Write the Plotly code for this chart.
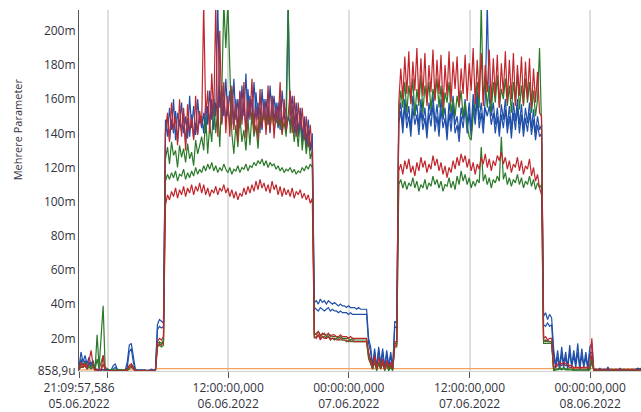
import pandas as pd
import plotly.graph_objects as go

# ---------------- data (values in milli-units) ----------------
sample_start = "2022-06-05 21:10:00"
sample_step = "12min"
n_samples = 281

blue1 = (
    [3,12,6,10,5,9,4,7,2,2, 1.5,2,1.5,1.5,2,1.5,1.5,4,5,2, 1.5,1.5,1.5,1.5,6,16,17,9,2,1.5, 1.5,1.5,1.5,1.5,1,1.5,2,1.5,1.5]
    + [28,31,30,29]
    + [148,138,155,142,160,136,152,145,158,140,150,137,162,143,156,139,160,146]
    + [150,140,158,145,165,148,160,150,216,155,168,150,172]
    + [150,165,145,172,148,160,143,168,150,175, 147,162,145,170,152,158,140,166,148,160, 145,168,150,162,146,158,142,165,150,155]
    + [216,150,162,145,158,140,155,138,150,135,148,130,140]
    + [41,42,40,43,41,42,40,42,41,40, 41,40,39,40,39,39,38,39,38,38, 38,37,38,37,37,37,37]
    + [20,15,4,14,3,15,5,14,3,13,4,12,3]
    + [30,29]
    + [150,158,145,160,148,156,142,162,150,157, 144,160,147,155,141,158,150,163,146,157]
    + [143,160,148,155,140,158,147,162,145,150, 140,155,148,160,145,158,142,163,150,165]
    + [148,158,145,160,216,160,150,158,145,155, 142,157,148,160,144,156,142,158,147,160]
    + [145,157,142,155,146,158,143,154,140,150,142,145]
    + [33,35,31,34,32]
    + [14,4,13,3,15,5,12,3,16,4, 13,5,17,3,14,4,12,3,15]
    + [17, 0.9]
    + [2,1.5,2.5,1.5,2,1.5,3,1.5,2,1.5, 2,1.5,2.5,1.5,2,1.5,2,1.5,2,1.5, 2,2.5,2,3]
)

blue2 = (
    [2,8,4,7,3,6,3,5,2,1.5, 1.5,1.5,1.5,1.5,1.5,1,1,2,3,1.5, 1,1,1,1,3,12,14,6,1.5,1, 1,1,1,1,1,1,1.5,1,1]
    + [25,27,26,27]
    + [142,150,136,148,140,153,135,147,141,152, 134,149,138,151,137,146,140,150]
    + [143,152,140,156,145,160,142,158,150,165,146,160,148]
    + [158,144,166,146,160,142,164,148,158,140, 166,150,160,144,164,148,155,142,160,146, 156,140,162,147,158,143,160,146,152,140]
    + [150,145,156,140,152,138,150,135,146,132,142,130,135]
    + [38,37,36,38,37,36,37,38,36,37, 36,36,35,36,35,35,35,34,35,34, 34,34,34,34,34,34,34]
    + [17,12,3,12,2,13,3,12,2,11,3,10,2]
    + [27,26]
    + [146,153,140,156,143,150,138,155,145,151, 139,154,142,149,137,152,144,157,141,150]
    + [138,154,143,149,136,152,141,156,140,145, 135,150,143,155,140,152,138,157,145,160]
    + [143,152,140,155,150,156,145,152,140,150, 138,151,143,154,140,150,137,152,142,155]
    + [140,151,138,149,141,152,139,148,136,145,138,140]
    + [28,27,29,27,28]
    + [10,3,9,2,11,3,9,2,12,3, 10,3,12,2,10,3,9,2,11]
    + [12, 0.9]
    + [1.5,1.2,1.8,1.2,1.5,1.2,2,1.2,1.5,1.2, 1.5,1.2,1.8,1.2,1.5,1.2,1.5,1.2,1.5,1.2, 1.5,1.8,1.5,2]
)

red1 = (
    [2,6,4,5,3,7,13,4,1.5,1.5, 2,1.5,10,1.5,1,1,1,1,1,1, 1,1,1,1,2,4,5,3,1,1, 1,1,1,1,1,1,1,1,1.5]
    + [18,20,19,21]
    + [140,152,135,158,142,150,133,160,138,155,130,157,141,149,136,162,139,153]
    + [145,216,150,165,140,175,150,216,138,200,145,170,140]
    + [162,138,168,142,158,135,165,145,170,137, 160,148,172,140,155,136,166,143,158,139, 168,141,162,137,156,145,170,139,160,142]
    + [150,165,140,162,138,158,142,155,136,150,132,145,128]
    + [23,22,24,21,23,22,22,23,21,22, 22,21,21,22,21,21,21,20,21,20, 20,20,20,20,20,20,20]
    + [12,8,3,10,2,9,3,8,2,7,3,6,2]
    + [18,18]
    + [158,178,160,185,163,188,157,182,165,190, 158,184,162,187,156,180,164,189,159,183]
    + [163,186,155,180,162,188,158,182,166,185, 156,178,163,186,159,181,165,190,157,183]
    + [161,187,156,180,164,189,158,184,162,186, 155,181,163,188,158,183,160,187,156,180]
    + [162,185,157,182,160,184,155,178,158,176,152,150]
    + [20,21,19,20,20]
    + [3,4,5,6,5,6,5,5,4,4, 3,3,3,3,3,3,3,3,4]
    + [20, 0.9]
    + [1.5,1.6,1.5,1.7,1.5,1.6,1.5,1.5,1.6,1.5, 1.5,1.6,1.5,1.7,1.5,1.5,1.6,1.5,1.5,1.6, 1.5,1.6,1.5,1.5]
)

red2 = (
    [1.5,4,3,4,2,5,6,3,1,1, 1.5,1,5,1,0.8,0.8,0.8,0.8,0.8,0.8, 0.8,0.8,0.8,0.8,1.5,3,4,2,0.8,0.8, 0.8,0.8,0.8,0.8,0.8,0.8,0.8,0.8,1]
    + [15,17,16,18]
    + [98,104,101,106,103,108,102,107,104,109, 103,108,105,110,104,109,106,111]
    + [105,110,104,108,103,107,105,109,104,108,106,110,105]
    + [108,103,107,102,106,101,105,103,108,104, 109,105,110,106,112,107,113,108,111,106, 110,105,112,107,110,104,109,103,108,104]
    + [107,103,108,102,106,104,107,102,105,101,104,99,102]
    + [21,20,22,19,21,20,20,21,19,20, 20,19,19,20,19,19,19,18,19,19, 18,18,18,18,18,18,18]
    + [9,6,2,7,2,6,2,6,2,5,2,4,2]
    + [16,16]
    + [118,122,116,124,119,125,117,121,115,123, 118,126,120,124,117,122,119,127,121,125]
    + [118,123,116,121,114,120,117,124,119,126, 121,128,123,127,120,125,118,123,116,122]
    + [119,126,122,128,120,125,118,124,121,127, 124,129,122,126,119,124,117,122,120,126]
    + [118,124,116,121,119,125,115,120,112,116,108,104]
    + [18,19,18,18,18]
    + [2,3,4,5,4,5,4,4,3,3, 2,2,2,2,2,2,2,2,3]
    + [10, 0.9]
    + [1.2,1.3,1.2,1.4,1.2,1.3,1.2,1.2,1.3,1.2, 1.2,1.3,1.2,1.4,1.2,1.2,1.3,1.2,1.2,1.3, 1.2,1.3,1.2,1.2]
)

green1 = (
    [3,5,4,6,3,4,3,5,2,22, 3,20,39,3,2,1.5,1.5,1.5,1.5,1.5, 1.5,1.5,1.5,1.5,2,4,5,3,1.5,1, 1,1,1,1,1,1,1,1,1.5]
    + [17,18,17,19]
    + [125,132,122,135,127,130,120,133,126,131, 123,134,125,129,121,136,128,133]
    + [138,130,150,128,145,135,160,140,155,132,165]
    + [216,190,216,170]
    + [140,128,145,132,150,135,142,130,148,133, 152,138,145,131,150,145,155,142,150,143, 152,141,150,144,148,140,147,138]
    + [216]
    + [140,150,135,145,132,148,130,142,128,138,125,130]
    + [22,23,24,22,22,23,21,22,22,21, 21,21,20,21,20,20,20,20,19,20, 19,19,19,19,19,19,19]
    + [10,7,2,8,2,6,3,7,2,6,2,5,2]
    + [17,17]
    + [150,165,155,170,152,168,158,172,150,166, 156,174,152,168,158,170,154,166,160,172]
    + [155,168,150,164,158,170,152,160,150,162, 155,165,150,158,145,138,136,150,158,170]
    + [155,216,160,172,155,168,152,170,158,174, 155,166,160,172,156,168,152,170,158,175]
    + [154,168,156,172,158,170,152,165,150,160,190,145]
    + [19,18,19,18,18]
    + [1.5,2,2,3,2,3,2,2,2,2, 1.5,1.5,1.5,1.5,1.5,1.5,1.5,1.5,2]
    + [8, 0.9]
    + [1.3,1.4,1.3,1.3,1.4,1.3,1.3,1.4,1.3,1.3, 1.4,1.3,1.3,1.4,1.3,1.3,1.4,1.3,1.3,1.4, 1.3,1.3,1.4,1.3]
)

green2 = (
    [2,3,3,4,2,3,2,3,1.5,8, 2,6,10,2,1.5,1,1,1,1,1, 1,1,1,1,1,2,3,2,1,1, 1,1,0.5,0.5,1,0.5,1,1,1]
    + [15,16,15,16]
    + [112,116,113,117,114,118,112,116,115,119, 113,117,114,118,115,120,116,119]
    + [117,121,118,122,119,123,118,121,117,120,118,122,119]
    + [117,120,116,119,118,121,117,120,119,122, 118,121,120,123,121,124,122,125,121,124, 120,123,121,122,119,121,118,120,117,119]
    + [118,120,117,119,116,118,117,120,118,121,119,122,120]
    + [20,21,22,20,21,21,20,21,20,20, 19,20,19,19,19,19,18,19,18,18, 18,18,18,18,18,18,18]
    + [8,5,2,6,1,5,2,5,1,4,1,3,1]
    + [15,15]
    + [110,113,108,112,107,111,109,114,108,112, 106,110,108,113,107,111,109,115,110,113]
    + [108,112,106,110,109,114,108,112,107,115, 110,118,112,116,110,114,108,112,109,113]
    + [111,132,112,116,110,114,108,113,111,115, 112,138,113,117,110,114,109,113,111,116]
    + [110,114,108,112,110,115,109,113,107,111,108,110]
    + [17,17,17,17,17]
    + [1,1.5,1.5,2,1.5,2,1.5,1.5,1.5,1.5, 1,1,1,1,1,1,1,1,1.5]
    + [6, 0.9]
    + [1.0,1.1,1.0,1.0,1.1,1.0,1.0,1.1,1.0,1.0, 1.1,1.0,1.0,1.1,1.0,1.0,1.1,1.0,1.0,1.1, 1.0,1.0,1.1,1.0]
)

orange = [1.5] * 39 + [2.3] * 242

x_tick_times = ["2022-06-05 21:09:57.586", "2022-06-06 00:00:00", "2022-06-06 12:00:00",
                "2022-06-07 00:00:00", "2022-06-07 12:00:00", "2022-06-08 00:00:00"]
x_tick_text = ["21:09:57,586<br>05.06.2022", "", "12:00:00,000<br>06.06.2022",
               "00:00:00,000<br>07.06.2022", "12:00:00,000<br>07.06.2022", "00:00:00,000<br>08.06.2022"]
x_range = ["2022-06-05 21:09:57.586", "2022-06-08 05:03:20"]

y_tick_vals = [0.0008589, 0.02, 0.04, 0.06, 0.08, 0.10, 0.12, 0.14, 0.16, 0.18, 0.20]
y_tick_text = ["858,9u", "20m", "40m", "60m", "80m", "100m", "120m", "140m", "160m", "180m", "200m"]
y_range = [0.0008589, 0.2122]

# ---------------- figure ----------------
times = pd.date_range(sample_start, periods=n_samples, freq=sample_step)

series = [
    ("Orange", orange, "#f4a460"),
    ("Grün 2", green2, "#2a7a2a"),
    ("Rot 2", red2, "#c0262b"),
    ("Blau 2", blue2, "#1f4fa8"),
    ("Blau 1", blue1, "#1f4fa8"),
    ("Grün 1", green1, "#2a7a2a"),
    ("Rot 1", red1, "#c0262b"),
]

fig = go.Figure()
for name, vals, col in series:
    n = min(len(vals), len(times))
    fig.add_trace(go.Scatter(
        x=times[:n], y=[v / 1000.0 for v in vals[:n]], name=name, mode="lines",
        line=dict(color=col, width=1.2), hoverinfo="skip", showlegend=False,
    ))

font_family = "Open Sans, Noto Sans, DejaVu Sans, sans-serif"
fig.update_layout(
    width=641, height=412,
    margin=dict(l=79, r=0, t=10, b=39),
    paper_bgcolor="white", plot_bgcolor="white",
    font=dict(family=font_family, size=12, color="#333340"),
    showlegend=False,
)
fig.update_xaxes(
    range=x_range, tickvals=x_tick_times, ticktext=x_tick_text,
    showgrid=True, gridcolor="#dedede", gridwidth=2,
    ticks="outside", ticklen=6, tickcolor="#555555",
    showline=True, linecolor="#cfcfcf", linewidth=1,
    zeroline=False, tickfont=dict(size=12, color="#333340"),
)
fig.update_yaxes(
    range=y_range, tickvals=y_tick_vals, ticktext=y_tick_text,
    showgrid=False, zeroline=False, ticks="",
    showline=True, linecolor="#555555", linewidth=1,
    tickfont=dict(size=12, color="#333340"),
)
fig.add_annotation(
    text="Mehrere Parameter", textangle=-90, showarrow=False,
    xref="paper", yref="paper", x=(17 - 79) / 562, y=(373 - 130) / 363,
    xanchor="center", yanchor="middle", font=dict(size=11, color="#333340"),
)

fig.write_html("out.html")
